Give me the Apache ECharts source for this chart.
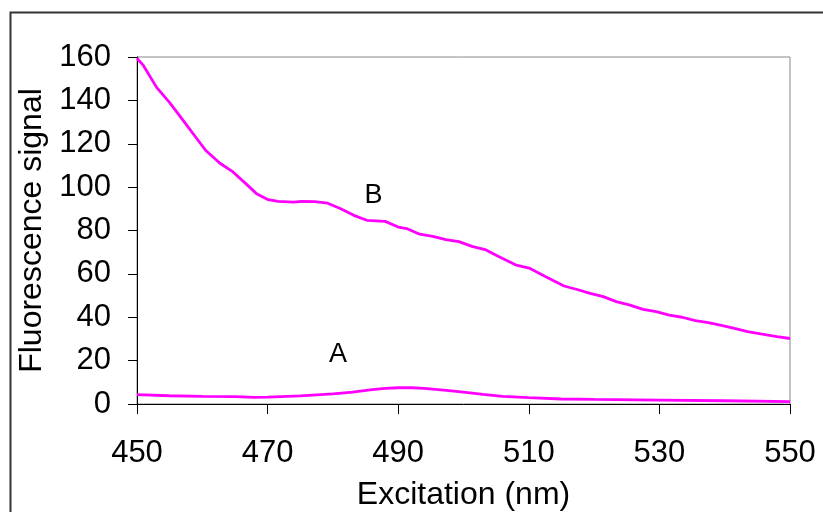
<!DOCTYPE html>
<html>
<head>
<meta charset="utf-8">
<style>
  html, body { margin: 0; padding: 0; background: #fff; }
  #chart { width: 823px; height: 512px; }
</style>
<script src="https://cdn.jsdelivr.net/npm/echarts@6/dist/echarts.min.js"></script>
</head>
<body>
<div id="chart"></div>
<script>
// curve B
const waveB = [450, 451, 453, 455, 457, 459, 460.5, 462.7, 464.7, 466.7, 468.3, 470.1, 471.6, 474, 475.2, 477.2,
  479.2, 481.2, 483.2, 485.2, 488, 490, 491.3, 493.3, 495.3, 497.3, 499.3, 501.3, 503.3, 505.3, 508.1, 510.2,
  512.6, 515.4, 517.4, 519.4, 521.4, 523.4, 525.5, 527.5, 529.5, 531.5, 533.5, 535.5, 537.5, 539.5, 541.5,
  543.5, 545.5, 548, 550];
const signalB = [159.4, 156, 146, 139, 131, 123, 117, 111, 107, 101.5, 97, 94.2, 93.4, 93.1, 93.4, 93.3,
  92.6, 90, 87, 84.7, 84.2, 81.6, 80.9, 78.3, 77.3, 75.8, 74.9, 72.7, 71.2, 68.1, 64, 62.5,
  58.7, 54.4, 52.8, 51, 49.5, 47.2, 45.6, 43.6, 42.6, 41, 40, 38.4, 37.5, 36.3, 34.9,
  33.4, 32.3, 31.1, 30.2];

// curve A
const waveA = [450, 455, 460, 465, 468, 470, 475, 480, 483, 486, 488, 490, 492, 494, 497, 500, 503, 506,
  510, 515, 520, 530, 540, 550];
const signalA = [4.3, 3.8, 3.5, 3.4, 3.1, 3.2, 3.7, 4.7, 5.5, 6.6, 7.2, 7.5, 7.5, 7.2, 6.4, 5.5, 4.4, 3.5,
  2.9, 2.3, 2.1, 1.8, 1.5, 1.1];

// curve labels and where they sit (data coords)
const curveNames = ['A', 'B'];
const labelX = [480.8, 486.2];
const labelY = [23, 96];

const xTicks = [450, 470, 490, 510, 530, 550];
const yTicks = [0, 20, 40, 60, 80, 100, 120, 140, 160];

const font = '"Liberation Sans", Arial, sans-serif';
const magenta = '#ff00ff';

const chart = echarts.init(document.getElementById('chart'));

const pairs = (xs, ys) => xs.map((x, i) => [x, ys[i]]);

const lineSeries = (name, data, idx) => ({
  name: name,
  type: 'line',
  data: data,
  showSymbol: false,
  smooth: false,
  lineStyle: { color: magenta, width: 2.8 },
  itemStyle: { color: magenta },
  markPoint: {
    symbol: 'circle',
    symbolSize: 0,
    data: [{ coord: [labelX[idx], labelY[idx]] }],
    label: {
      show: true,
      formatter: curveNames[idx],
      color: '#000',
      fontFamily: font,
      fontSize: 27,
      position: 'inside'
    }
  }
});

chart.setOption({
  animation: false,
  backgroundColor: '#fff',
  graphic: [{
    type: 'rect',
    shape: { x: 10.5, y: 12.5, width: 900, height: 700 },
    style: { fill: 'none', stroke: '#333', lineWidth: 2 },
    silent: true
  }],
  grid: {
    left: 137, right: 33, top: 57, bottom: 108,
    outerBoundsMode: 'none',
    containLabel: false,
    show: true, borderColor: '#888', borderWidth: 1, backgroundColor: 'transparent'
  },
  xAxis: {
    type: 'value',
    min: xTicks[0], max: xTicks[xTicks.length - 1], interval: 20,
    name: 'Excitation (nm)',
    nameLocation: 'middle',
    nameGap: 75,
    nameTextStyle: { color: '#000', fontFamily: font, fontSize: 32 },
    axisLine: { show: true, lineStyle: { color: '#000', width: 1 } },
    axisTick: { show: true, inside: false, length: 10, lineStyle: { color: '#000' } },
    axisLabel: { color: '#000', fontFamily: font, fontSize: 31, margin: 34 },
    splitLine: { show: false }
  },
  yAxis: {
    type: 'value',
    min: yTicks[0], max: yTicks[yTicks.length - 1], interval: 20,
    name: 'Fluorescence signal',
    nameLocation: 'middle',
    nameGap: 82,
    nameTextStyle: { color: '#000', fontFamily: font, fontSize: 32 },
    axisLine: { show: true, lineStyle: { color: '#000', width: 1 } },
    axisTick: { show: true, inside: false, length: 9, lineStyle: { color: '#000' } },
    axisLabel: { color: '#000', fontFamily: font, fontSize: 31, margin: 26 },
    splitLine: { show: false }
  },
  series: [
    lineSeries('A', pairs(waveA, signalA), 0),
    lineSeries('B', pairs(waveB, signalB), 1)
  ]
});
</script>
</body>
</html>
